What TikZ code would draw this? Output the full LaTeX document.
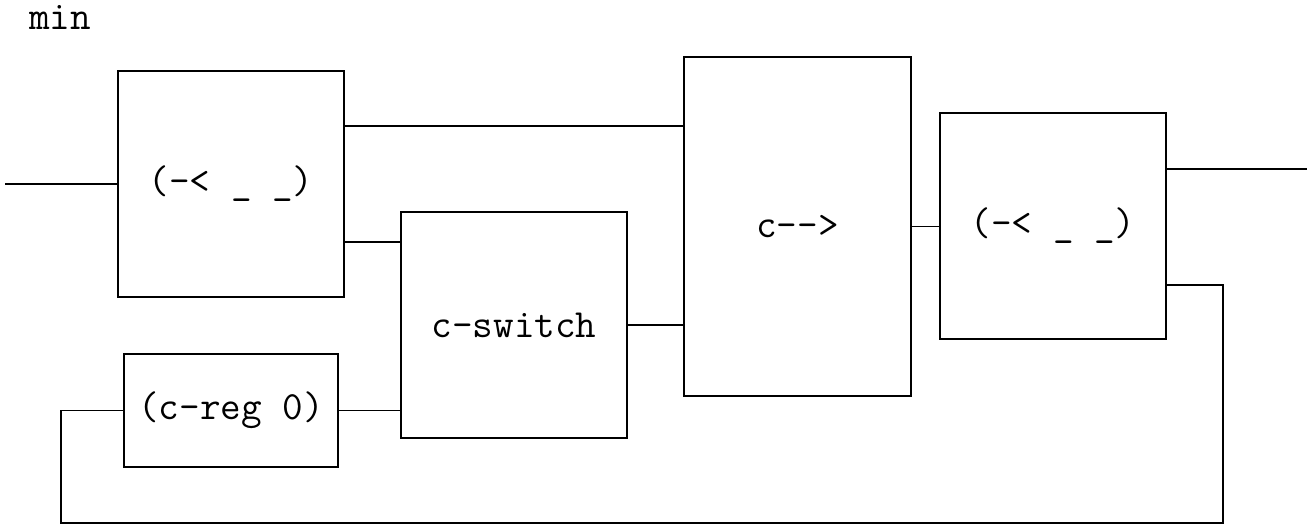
\documentclass[tikz,border=0pt]{standalone}
\begin{document}
\begin{tikzpicture}[x=1pt,y=-1pt,
  blk/.style={draw,line width=1.8pt,rectangle,inner sep=0pt,font=\ttfamily\fontsize{40}{44}\selectfont},
  wire/.style={line width=1.4pt}]
\useasboundingbox (0,0) rectangle (1312,528);
\node[inner sep=0pt,font=\ttfamily\fontsize{40}{44}\selectfont] (title) at (60,17) {min};
\node[blk,minimum width=226pt,minimum height=226pt] (A) at (231,184) {(-< \_ \_)};
\node[blk,minimum width=226pt,minimum height=226pt] (B) at (514,325) {c-switch};
\node[blk,minimum width=214pt,minimum height=113pt] (C) at (231,410.5) {(c-reg 0)};
\node[blk,minimum width=227pt,minimum height=339pt] (D) at (797.5,226.5) {c-{}->};
\node[blk,minimum width=226pt,minimum height=226pt] (E) at (1053,226) {(-< \_ \_)};
\coordinate (in) at (5,184);
\coordinate (out) at (1307,170);
\coordinate (fr) at (1223,523);
\coordinate (fl) at (61,523);
\draw[wire] (in) -- (A.west);
\draw[wire] ([yshift=-56pt]A.north east) coordinate (a1) -- (a1 -| D.west);
\draw[wire] ([yshift=56pt]A.south east) coordinate (a2) -- (a2 -| B.west);
\draw[wire] (C.east) -- (C.east -| B.west);
\draw[wire] (B.east) -- (B.east -| D.west);
\draw[wire] (D.east) -- (D.east -| E.west);
\draw[wire] ([yshift=-57pt]E.north east) coordinate (e1) -- (e1 -| out);
\draw[wire] ([yshift=55pt]E.south east) coordinate (e2) -- (e2 -| fr) -- (fr) -- (fl) -- (fl |- C.west) -- (C.west);
\end{tikzpicture}
\end{document}
